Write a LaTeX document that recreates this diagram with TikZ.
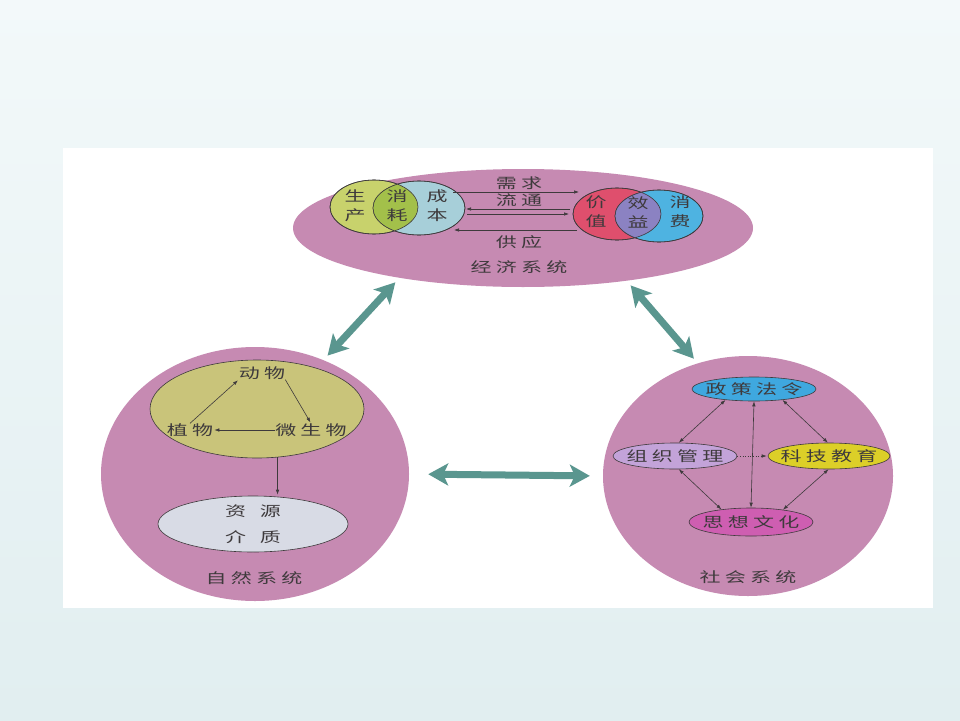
\documentclass[tikz,border=0pt]{standalone}
\usepackage{fontspec}
\usepackage{tikz}
\usetikzlibrary{arrows.meta,shapes.geometric}
\newfontfamily\cjk{Noto Sans CJK SC}[FakeStretch=1.5,LetterSpace=30]

\definecolor{slidetop}{HTML}{F3F9FA}
\definecolor{slidebot}{HTML}{E1EEF0}
\definecolor{mauve}{HTML}{C68AB2}
\definecolor{linkteal}{HTML}{5A968F}
\definecolor{ink}{HTML}{3E3A3C}
\definecolor{prodgreen}{HTML}{C8D26C}
\definecolor{costblue}{HTML}{A7CFD9}
\definecolor{usegreen}{HTML}{A3C04A}
\definecolor{valuered}{HTML}{DF4F6D}
\definecolor{spendblue}{HTML}{4EB3E1}
\definecolor{gainviolet}{HTML}{8B82C2}
\definecolor{lifeolive}{HTML}{C9C47A}
\definecolor{resgray}{HTML}{D8DBE5}
\definecolor{policyblue}{HTML}{3FA8DF}
\definecolor{orglilac}{HTML}{C3A3D9}
\definecolor{techyellow}{HTML}{DCCF28}
\definecolor{culturepink}{HTML}{CE5EB1}

\begin{document}
\begin{tikzpicture}[x=1pt,y=-1pt,
	every node/.style={font=\cjk\fontsize{14}{19}\selectfont,text=ink,inner sep=0pt},
	system/.style={ellipse,fill=mauve},
	blob/.style={ellipse,draw=ink,line width=0.6pt},
	flow/.style={-{Latex[length=5pt,width=3.5pt]},ink,line width=0.6pt,shorten >=1pt},
	twoway/.style={{Latex[length=5pt,width=3.5pt]}-{Latex[length=5pt,width=3.5pt]},ink,line width=0.6pt},
	link/.style={{Stealth[length=20pt,width=22pt,inset=5pt]}-{Stealth[length=20pt,width=22pt,inset=5pt]},linkteal,line width=7pt}]

	% Slide and photo
	\shade[top color=slidetop,bottom color=slidebot] (0,0) rectangle (960,720);
	\fill[white] (63,148) rectangle (933,608);

	% Economic system
	\node[system,minimum width=460pt,minimum height=118pt] (econ) at (523,228) {};
	\node[blob,fill=prodgreen,minimum width=88pt,minimum height=54pt] (prod) at (374,207) {};
	\node[blob,fill=costblue,minimum width=92pt,minimum height=54pt] (cost) at (419,208) {};
	\begin{scope}
		\clip (prod) ellipse [x radius=44,y radius=27];
		\fill[usegreen] (cost) ellipse [x radius=46,y radius=27];
	\end{scope}
	\draw[ink,line width=0.6pt] (prod) ellipse [x radius=44,y radius=27] (cost) ellipse [x radius=46,y radius=27];
	\node[align=center] (prodtxt) at (355,206) {生\\产};
	\node[align=center] (usetxt) at (397,206) {消\\耗};
	\node[align=center] (costtxt) at (437,206) {成\\本};

	\node[blob,fill=valuered,minimum width=88pt,minimum height=52pt] (value) at (617,214) {};
	\node[blob,fill=spendblue,minimum width=88pt,minimum height=52pt] (spend) at (659,216) {};
	\begin{scope}
		\clip (value) ellipse [x radius=44,y radius=26];
		\fill[gainviolet] (spend) ellipse [x radius=44,y radius=26];
	\end{scope}
	\draw[ink,line width=0.6pt] (value) ellipse [x radius=44,y radius=26] (spend) ellipse [x radius=44,y radius=26];
	\node[align=center] (valuetxt) at (596,212) {价\\值};
	\node[align=center] (gaintxt) at (638,212) {效\\益};
	\node[align=center] (spendtxt) at (680,212) {消\\费};

	% Exchange lines
	\coordinate (needA) at (453,192);
	\coordinate (needB) at (580,192);
	\coordinate (passA) at (465,209);
	\coordinate (passB) at (570,209);
	\coordinate (passC) at (467,214);
	\coordinate (passD) at (570,214);
	\coordinate (giveA) at (453,230);
	\coordinate (giveB) at (577,230);
	\draw[flow] (needA) -- (needB);
	\draw[flow] (passB) -- (passA);
	\draw[flow] (passC) -- (passD);
	\draw[flow] (giveB) -- (giveA);
	\node (need) at (519,183) {需求};
	\node (pass) at (519,200) {流通};
	\node (give) at (519,242) {供应};
	\node (econname) at (519,267) {经济系统};

	% Natural system
	\node[system,minimum width=308pt,minimum height=254pt] (nature) at (255,474) {};
	\node[blob,fill=lifeolive,minimum width=214pt,minimum height=98pt] (life) at (257,409) {};
	\node (animal) at (262,373) {动物};
	\node (plant) at (190,430) {植物};
	\node (microbe) at (311,430) {微生物};
	\draw[flow] (plant.north) -- (animal.south west);
	\draw[flow] (animal.south east) -- (microbe.north);
	\draw[flow] (microbe.west) -- (plant.east);
	\node[blob,fill=resgray,minimum width=190pt,minimum height=56pt,
		label={[align=center,font=\cjk\fontsize{14}{26}\selectfont]center:资\quad 源\\介\quad 质}] (res) at (253,524) {};
	\draw[flow] (life.-67) -- (res.north -| life.-67);
	\node (naturename) at (254,578) {自然系统};

	% Social system
	\node[system,minimum width=290pt,minimum height=240pt] (society) at (748,476) {};
	\node[blob,fill=policyblue,minimum width=124pt,minimum height=24pt,label=center:政策法令] (policy) at (754,389) {};
	\node[blob,fill=orglilac,minimum width=124pt,minimum height=26pt,label=center:组织管理] (org) at (675,456) {};
	\node[blob,fill=techyellow,minimum width=122pt,minimum height=26pt,label=center:科技教育] (tech) at (829,456) {};
	\node[blob,fill=culturepink,minimum width=124pt,minimum height=28pt,label=center:思想文化] (culture) at (751,522) {};
	\foreach \a/\b in {policy.201/org.74,policy.-21/tech.95,policy.-90/culture.90,org.-74/culture.157,tech.-92/culture.21}
		\draw[twoway] (\a) -- (\b);
	\draw[flow,dotted] (org) -- (tech);
	\node (socname) at (748,577) {社会系统};

	% Links between the systems
	\draw[link,shorten <=6pt,shorten >=6pt] (econ.202) -- (nature.59);
	\draw[link,shorten <=6pt,shorten >=6pt] (econ.333) -- (society.114);
	\draw[link,shorten <=19pt,shorten >=13pt] (nature.east) -- (society.west);
\end{tikzpicture}
\end{document}
